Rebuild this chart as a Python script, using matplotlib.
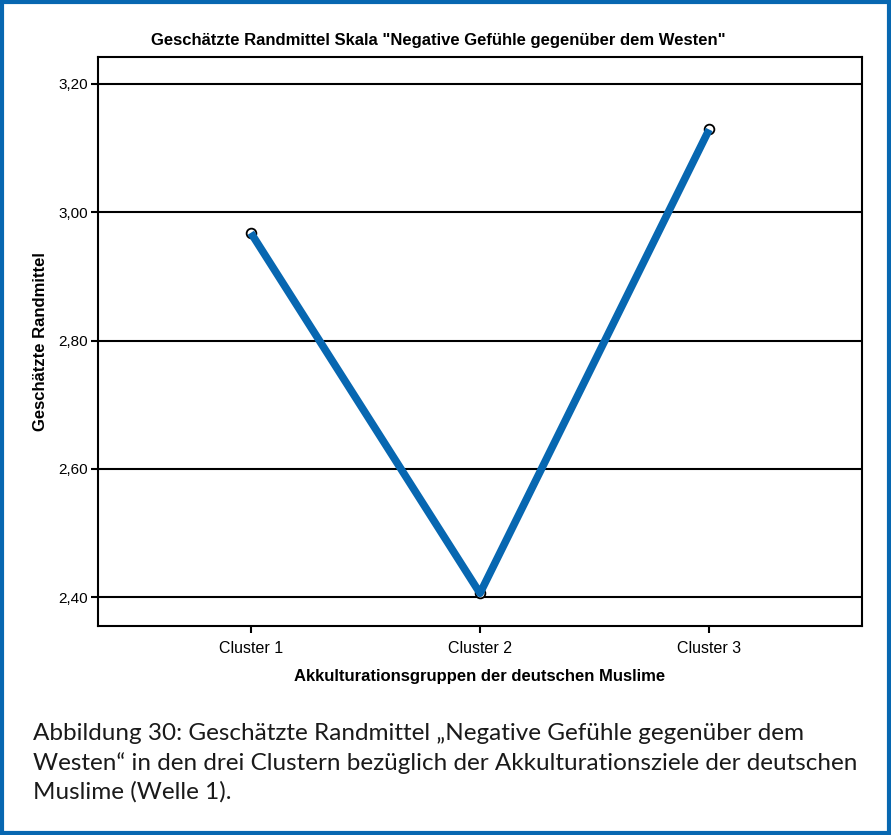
import matplotlib
matplotlib.use("Agg")
import matplotlib.pyplot as plt
from matplotlib.patches import Rectangle

# data
clusters = ["Cluster 1", "Cluster 2", "Cluster 3"]
means = [2.968, 2.406, 3.129]
yticks = [2.40, 2.60, 2.80, 3.00, 3.20]
ytick_labels = ["2,40", "2,60", "2,80", "3,00", "3,20"]

title = 'Geschätzte Randmittel Skala "Negative Gefühle gegenüber dem Westen"'
xlabel = "Akkulturationsgruppen der deutschen Muslime"
ylabel = "Geschätzte Randmittel"
caption = ("Abbildung 30: Geschätzte Randmittel \u201eNegative Gefühle gegenüber dem\n"
           "Westen\u201c in den drei Clustern bezüglich der Akkulturationsziele der deutschen\n"
           "Muslime (Welle 1).")

blue = "#0767b1"
W, H = 891, 835

plt.rcParams['font.family'] = ['Liberation Sans', 'DejaVu Sans']

fig = plt.figure(figsize=(W / 100, H / 100), dpi=100)
ax = fig.add_axes([98 / W, 1 - 626 / H, (862 - 98) / W, (626 - 57) / H])

x = list(range(1, len(clusters) + 1))
for yt in yticks:
    ax.axhline(yt, color="black", lw=1.5, zorder=1)
ax.plot(x, means, "o", ms=7, mfc="white", mec="black", mew=1.3, zorder=2)
ax.plot(x, means, color=blue, lw=5.5, solid_capstyle="butt", zorder=3)

ax.set_xlim(0.333, 3.667)
ax.set_ylim(2.355, 3.242)
ax.set_xticks(x)
ax.set_xticklabels(clusters, fontsize=11.5)
ax.set_yticks(yticks)
ax.set_yticklabels(ytick_labels, fontsize=11)
ax.tick_params(direction="out", length=5, width=1.5, color="black", pad=2)
ax.tick_params(axis="x", pad=6)
for s in ax.spines.values():
    s.set_linewidth(1.5)
    s.set_color("black")

ax.set_xlabel(xlabel, fontsize=12, fontweight="bold", labelpad=9)
ax.set_ylabel(ylabel, fontsize=12, fontweight="bold", labelpad=8)

fig.text(438 / W, 1 - 40 / H, title, fontsize=12, fontweight="bold",
         ha="center", va="center")

fig.text(33 / W, 1 - 723 / H, caption, fontsize=17.5, family=["Lato", "DejaVu Sans"],
         ha="left", va="top", linespacing=1.43, color="#1a1a1a")

# blue frame around the whole figure
fig.patches.append(Rectangle((2 / W, 2 / H), 1 - 4 / W, 1 - 4 / H,
                             transform=fig.transFigure, fill=False,
                             edgecolor=blue, lw=3))

fig.savefig("out.png", dpi=100)
